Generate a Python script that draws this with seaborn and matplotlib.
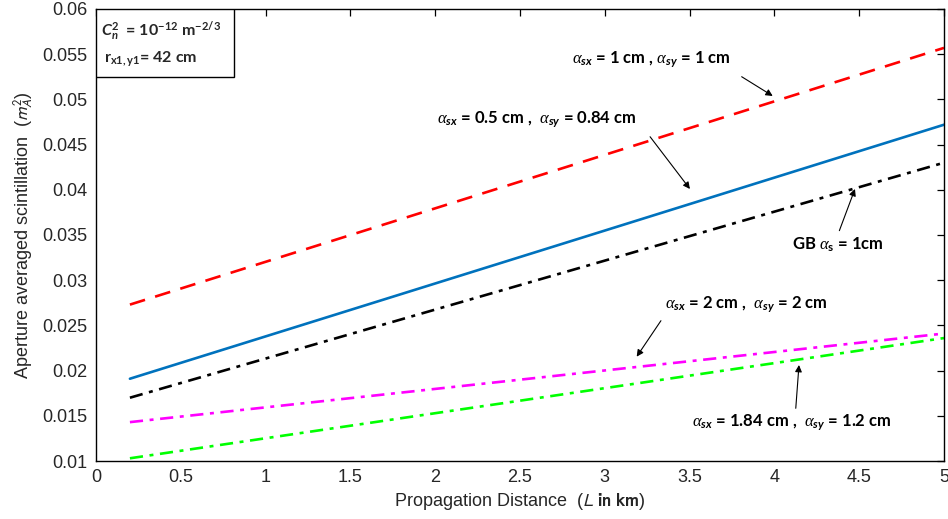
import numpy as np
import pandas as pd
import matplotlib
matplotlib.use("Agg")
import matplotlib.pyplot as plt
from matplotlib.patches import Rectangle
import seaborn as sns

# Propagation distance (km) at the two ends of each curve
distance_km = [0.2, 5.0]

# Aperture averaged scintillation for each beam configuration
scint_1_1 = [0.0273, 0.0557]        # alpha_sx = 1 cm, alpha_sy = 1 cm
scint_05_084 = [0.0191, 0.0472]     # alpha_sx = 0.5 cm, alpha_sy = 0.84 cm
scint_gb = [0.0170, 0.0430]         # Gaussian beam, alpha_s = 1 cm
scint_2_2 = [0.0143, 0.0241]        # alpha_sx = 2 cm, alpha_sy = 2 cm
scint_184_12 = [0.0103, 0.0236]     # alpha_sx = 1.84 cm, alpha_sy = 1.2 cm

x_ticks = [0, 0.5, 1, 1.5, 2, 2.5, 3, 3.5, 4, 4.5, 5]
x_tick_labels = ["0", "0.5", "1", "1.5", "2", "2.5", "3", "3.5", "4", "4.5", "5"]
y_ticks = [0.01, 0.015, 0.02, 0.025, 0.03, 0.035, 0.04, 0.045, 0.05, 0.055, 0.06]
y_tick_labels = ["0.01", "0.015", "0.02", "0.025", "0.03", "0.035", "0.04",
                 "0.045", "0.05", "0.055", "0.06"]

sns.set_theme(style="white")
plt.rcParams["font.family"] = ["Liberation Sans", "DejaVu Sans"]
plt.rcParams["mathtext.fontset"] = "custom"
plt.rcParams["mathtext.rm"] = "Lato:bold"
plt.rcParams["mathtext.bf"] = "Lato:bold"
plt.rcParams["mathtext.it"] = "Liberation Serif:italic"
plt.rcParams["mathtext.bfit"] = "Lato:bold:italic"
plt.rcParams["mathtext.fallback"] = "stix"

series = [
    ("a", scint_1_1, "#ff0000", (0, (6, 4))),
    ("b", scint_05_084, "#0072bd", "-"),
    ("c", scint_gb, "#000000", (0, (5, 2.5, 1.5, 2.5))),
    ("d", scint_2_2, "#ff00ff", (0, (5, 2.5, 1.5, 2.5))),
    ("e", scint_184_12, "#00ff00", (0, (5, 2.5, 1.5, 2.5))),
]

frames = []
for key, vals, _, _ in series:
    frames.append(pd.DataFrame({"L": distance_km, "m": vals, "case": key}))
df = pd.concat(frames, ignore_index=True)

fig = plt.figure(figsize=(9.48, 5.19), dpi=100)
ax = fig.add_axes([96 / 948, 1 - 461 / 519, 848 / 948, 452 / 519])

for key, _, color, ls in series:
    sns.lineplot(data=df[df["case"] == key], x="L", y="m", ax=ax,
                 color=color, linestyle=ls, linewidth=1.9, legend=False)

ax.set_xlim(0, 5)
ax.set_ylim(0.01, 0.06)
ax.set_xticks(x_ticks)
ax.set_xticklabels(x_tick_labels)
ax.set_yticks(y_ticks)
ax.set_yticklabels(y_tick_labels)
ax.tick_params(direction="in", length=5, width=0.9, colors="black",
               labelsize=13, top=True, right=True, pad=6,
               labelcolor="#262626")
for sp in ax.spines.values():
    sp.set_visible(True)
    sp.set_color("black")
    sp.set_linewidth(1.0)

ax.set_xlabel(r"Propagation Distance  ($L$ $\mathbf{in\ km}$)", fontsize=13,
              color="#262626", math_fontfamily="stixsans", labelpad=3)
ax.set_ylabel(r"Aperture averaged scintillation  ($m_A^2$)", fontsize=13,
              color="#262626", math_fontfamily="stixsans", labelpad=5)

tkw = dict(fontsize=12, fontweight="bold", family="Lato", color="black",
           ha="left", va="center")
akw = dict(arrowstyle="-|>", color="black", lw=0.8, mutation_scale=10,
           shrinkA=0, shrinkB=0)

notes = [
    (r"$\alpha_{\mathbfit{sx}}$ = 1 cm , $\alpha_{\mathbfit{sy}}$ = 1 cm",
     (2.805, 0.0544), (3.807, 0.05251), (3.990, 0.05038)),
    (r"$\alpha_{\mathbfit{sx}}$ = 0.5 cm ,  $\alpha_{\mathbfit{sy}}$ = 0.84 cm",
     (2.009, 0.0477), (3.267, 0.04587), (3.502, 0.04009)),
    (r"GB $\alpha_{\mathbf{s}}$ = 1cm",
     (4.102, 0.0339), (4.383, 0.03548), (4.475, 0.04009)),
    (r"$\alpha_{\mathbfit{sx}}$ = 2 cm ,  $\alpha_{\mathbfit{sy}}$ = 2 cm",
     (3.355, 0.0273), (3.331, 0.02552), (3.188, 0.02154)),
    (r"$\alpha_{\mathbfit{sx}}$ = 1.84 cm ,  $\alpha_{\mathbfit{sy}}$ = 1.2 cm",
     (3.512, 0.0142), (4.126, 0.01583), (4.145, 0.02062)),
]
for text, tpos, a0, a1 in notes:
    ax.text(*tpos, text, **tkw)
    ax.annotate("", xy=a1, xytext=a0, arrowprops=akw)

# parameter box in the upper-left corner
box = Rectangle((0, 0.85), 0.163, 0.15, transform=ax.transAxes,
                facecolor="white", edgecolor="black", lw=1.0, zorder=5)
ax.add_patch(box)
ax.text(0.006, 0.952,
        r"$\mathbfit{C}_{\mathbfit{n}}^{\mathbf{2}}$  = 10$^{\mathbf{-12}}$ m$^{\mathbf{-2/3}}$",
        transform=ax.transAxes, fontsize=11.5, fontweight="bold", family="Lato",
        ha="left", va="center", zorder=6)
ax.text(0.010, 0.888, r"r$_{\mathbf{x1,y1}}$= 42 cm",
        transform=ax.transAxes, fontsize=11.5, fontweight="bold", family="Lato",
        ha="left", va="center", zorder=6)

fig.savefig("out.png", dpi=100)
